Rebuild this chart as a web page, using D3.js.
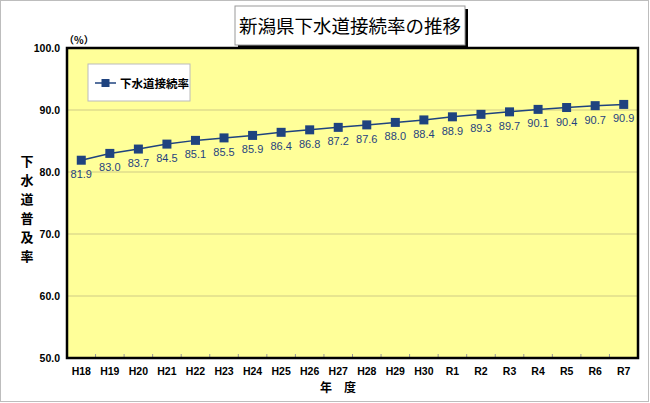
<!DOCTYPE html>
<html>
<head>
<meta charset="utf-8">
<script src="https://cdn.jsdelivr.net/npm/d3@7"></script>
<style>
  body { margin: 0; background: #fff; }
  svg { display: block; }
</style>
</head>
<body>
<div id="chart"></div>
<script>
// data
const years = ['H18', 'H19', 'H20', 'H21', 'H22', 'H23', 'H24', 'H25', 'H26', 'H27',
  'H28', 'H29', 'H30', 'R1', 'R2', 'R3', 'R4', 'R5', 'R6', 'R7'];
const rates = [81.9, 83.0, 83.7, 84.5, 85.1, 85.5, 85.9, 86.4, 86.8, 87.2,
  87.6, 88.0, 88.4, 88.9, 89.3, 89.7, 90.1, 90.4, 90.7, 90.9];
const yTicks = [50, 60, 70, 80, 90, 100];
const seriesName = '下水道接続率';

const width = 650;
const height = 403;
const margins = { top: 48, right: 12, bottom: 45, left: 67 };
const innerWidth = width - margins.left - margins.right;
const innerHeight = height - margins.top - margins.bottom;
const navy = '#1F437F';
const latin = '"Liberation Sans", Arial, sans-serif';
const jp = '"Noto Sans CJK JP", sans-serif';

const svg = d3.select('#chart').append('svg')
  .attr('width', width)
  .attr('height', height)
  .attr('font-family', latin);

// outer frame
svg.append('rect')
  .attr('x', 0.5).attr('y', 0.5)
  .attr('width', width - 2).attr('height', height - 2)
  .attr('fill', '#fff').attr('stroke', '#bdbdbd');

const xScale = d3.scaleBand().domain(years).range([0, innerWidth]);
const yScale = d3.scaleLinear().domain([50, 100]).range([innerHeight, 0]);

const g = svg.append('g')
  .attr('transform', `translate(${margins.left}, ${margins.top})`);

g.append('rect')
  .attr('width', innerWidth).attr('height', innerHeight)
  .attr('fill', '#FFFF99');

// gridlines
g.selectAll('line.grid')
  .data(yTicks.slice(1, -1))
  .enter().append('line')
  .attr('class', 'grid')
  .attr('x1', 0).attr('x2', innerWidth)
  .attr('y1', d => yScale(d)).attr('y2', d => yScale(d))
  .attr('stroke', '#CFCB86').attr('stroke-width', 1);

// y axis labels
g.selectAll('text.ylab')
  .data(yTicks)
  .enter().append('text')
  .attr('class', 'ylab')
  .attr('x', -7)
  .attr('y', d => yScale(d) + 4)
  .attr('text-anchor', 'end')
  .attr('font-size', 10.5).attr('font-weight', 'bold')
  .text(d => d3.format('.1f')(d));

// x axis labels and small tick marks at band edges
g.selectAll('text.xlab')
  .data(years)
  .enter().append('text')
  .attr('class', 'xlab')
  .attr('x', d => xScale(d) + xScale.bandwidth() / 2)
  .attr('y', innerHeight + 17)
  .attr('text-anchor', 'middle')
  .attr('font-size', 10.5).attr('font-weight', 'bold')
  .text(d => d);

g.selectAll('line.xtick')
  .data(years.slice(1))
  .enter().append('line')
  .attr('class', 'xtick')
  .attr('x1', d => xScale(d)).attr('x2', d => xScale(d))
  .attr('y1', innerHeight).attr('y2', innerHeight - 4)
  .attr('stroke', '#999');

// plot border
g.append('rect')
  .attr('width', innerWidth).attr('height', innerHeight)
  .attr('fill', 'none').attr('stroke', '#000').attr('stroke-width', 2.5);

// line and markers
const cx = d => xScale(d) + xScale.bandwidth() / 2;
const line = d3.line()
  .x((d, i) => cx(years[i]))
  .y(d => yScale(d));

g.append('path')
  .datum(rates)
  .attr('d', line)
  .attr('fill', 'none')
  .attr('stroke', navy)
  .attr('stroke-width', 1.5);

g.selectAll('rect.marker')
  .data(rates)
  .enter().append('rect')
  .attr('class', 'marker')
  .attr('x', (d, i) => cx(years[i]) - 4.5)
  .attr('y', d => yScale(d) - 4.5)
  .attr('width', 9).attr('height', 9)
  .attr('fill', navy);

g.selectAll('text.value')
  .data(rates)
  .enter().append('text')
  .attr('class', 'value')
  .attr('x', (d, i) => cx(years[i]))
  .attr('y', d => yScale(d) + 18)
  .attr('text-anchor', 'middle')
  .attr('font-size', 11)
  .attr('fill', navy)
  .text(d => d3.format('.1f')(d));

// legend
const legend = svg.append('g').attr('transform', 'translate(88, 64)');
legend.append('rect')
  .attr('width', 102).attr('height', 37)
  .attr('fill', '#fff').attr('stroke', '#bbb');
legend.append('line')
  .attr('x1', 7).attr('x2', 28).attr('y1', 19).attr('y2', 19)
  .attr('stroke', navy).attr('stroke-width', 1.5);
legend.append('rect')
  .attr('x', 13.5).attr('y', 15).attr('width', 8).attr('height', 8)
  .attr('fill', navy);
legend.append('text')
  .attr('x', 32).attr('y', 23.5)
  .attr('font-family', jp).attr('font-size', 11.5).attr('font-weight', 'bold')
  .text(seriesName);

// title box with shadow
const title = svg.append('g').attr('transform', 'translate(235, 6)');
title.append('rect')
  .attr('x', 3).attr('y', 3).attr('width', 230).attr('height', 39)
  .attr('fill', '#000');
title.append('rect')
  .attr('width', 230).attr('height', 39)
  .attr('fill', '#fff').attr('stroke', '#999');
title.append('text')
  .attr('x', 115).attr('y', 27)
  .attr('text-anchor', 'middle')
  .attr('font-family', jp).attr('font-size', 18.5)
  .text('新潟県下水道接続率の推移');

// unit label
svg.append('text')
  .attr('x', 64).attr('y', 44)
  .attr('font-family', jp).attr('font-size', 10).attr('font-weight', 'bold')
  .text('（%）');

// y axis title, stacked vertically
const yTitle = '下水道普及率'.split('');
svg.append('g').selectAll('text')
  .data(yTitle)
  .enter().append('text')
  .attr('x', 27)
  .attr('y', (d, i) => 166 + i * 19)
  .attr('text-anchor', 'middle')
  .attr('font-family', jp).attr('font-size', 13).attr('font-weight', 'bold')
  .text(d => d);

// x axis title
svg.append('text')
  .attr('x', 338).attr('y', 392)
  .attr('text-anchor', 'middle')
  .attr('font-family', jp).attr('font-size', 12).attr('font-weight', 'bold')
  .attr('xml:space', 'preserve')
  .text('年　度');
</script>
</body>
</html>
